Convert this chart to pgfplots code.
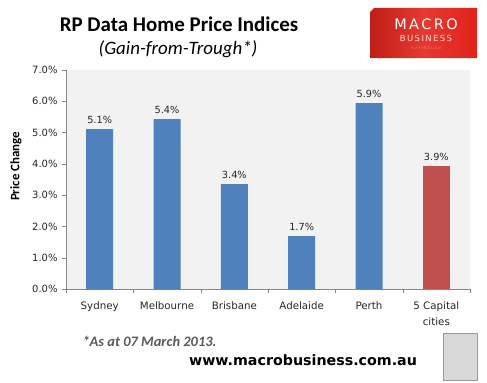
\documentclass[border=0pt]{standalone}
\usepackage{pgfplots}
\pgfplotsset{compat=1.18}
\usepackage{fontspec}
\setmainfont{Carlito}
\newfontfamily\tickfont{DejaVu Sans}
\newfontfamily\urlfont{DejaVu Sans}
\definecolor{barblue}{HTML}{4F81BD}
\definecolor{barred}{HTML}{C0504D}
\definecolor{plotbg}{HTML}{F2F2F2}
\definecolor{axgray}{HTML}{868686}
\definecolor{logored}{HTML}{E2231A}
\pgfkeys{/pgf/number format/assume math mode=true}
\begin{document}
\begin{tikzpicture}[x=1bp,y=1bp]
\path (0,0) rectangle (487,382);
\begin{axis}[
  at={(66bp,93bp)}, anchor=south west,
  scale only axis, width=404bp, height=219bp,
  xmin=-0.5, xmax=5.5, ymin=0, ymax=7,
  /pgf/number format/assume math mode=true,
  axis background/.style={fill=plotbg},
  axis x line*=bottom, axis y line*=left,
  axis line style={axgray},
  every outer x axis line/.append style={-},
  every outer y axis line/.append style={-},
  ytick={0,1,...,7},
  yticklabel={\pgfmathprintnumber[fixed,fixed zerofill,precision=1]{\tick}\%},
  yticklabel style={font=\tickfont\fontsize{10}{12}\selectfont, text=black!85, xshift=-1bp},
  xtick={0,...,5},
  xticklabels={Sydney,Melbourne,Brisbane,Adelaide,Perth,5 Capital\\cities},
  xticklabel style={font=\tickfont\fontsize{10.3}{16}\selectfont, text=black!85, align=center, anchor=north, yshift=-5bp},
  major x tick style={draw=none},
  minor xtick={-0.5,0.5,...,5.5},
  minor x tick style={axgray},
  minor tick length=4bp,
  major tick length=4bp,
  major y tick style={axgray},
  tick align=outside,
  ylabel={\bfseries Price Change},
  every axis y label/.style={at={(axis description cs:-0.124,0.56)}, rotate=90, anchor=center, font=\fontsize{13}{15}\selectfont},
  ybar, bar width=27bp, bar shift=0pt,
  nodes near coords={\pgfmathprintnumber[fixed,fixed zerofill,precision=1]{\pgfplotspointmeta}\%},
  nodes near coords style={font=\tickfont\fontsize{9.8}{12}\selectfont, text=black!85, yshift=2bp},
  clip=false,
]
\addplot[fill=barblue, draw=none] coordinates {(0,5.11) (1,5.43) (2,3.35) (3,1.69) (4,5.94)};
\addplot[fill=barred, draw=none] coordinates {(5,3.93)};
\end{axis}
% titles
\node[font=\bfseries\fontsize{21}{24}\selectfont] at (179,358) {RP Data Home Price Indices};
\node[font=\itshape\fontsize{19}{22}\selectfont] at (178,333) {(Gain-from-Trough*)};
% logo
\shade[left color=logored!85!black, right color=logored, middle color=logored!90!white] (370,324) -- (370,370) -- (374,374) -- (477,374) -- (477,324) -- cycle;
\node[white, font=\tickfont\fontsize{14.5}{15}\selectfont] at (426,358) {M\,A\,C\,R\,O};
\node[white!85!red, font=\tickfont\fontsize{8.5}{9}\selectfont] at (426,344) {B\,U\,S\,I\,N\,E\,S\,S};
\node[logored!60!white, font=\tickfont\fontsize{3.5}{4}\selectfont] at (426,334) {S\ U\ P\ E\ R\ B\ L\ O\ G};
% footnote
\node[anchor=west, text=black!65, font=\bfseries\itshape\fontsize{14.5}{16}\selectfont] at (79,41) {*As at 07 March 2013.};
\node[font=\urlfont\bfseries\fontsize{14.3}{16}\selectfont] at (303,22) {www.macrobusiness.com.au};
% wolf box
\draw[black!40, fill=black!15] (443,2) rectangle (477,49);
\end{tikzpicture}
\end{document}
